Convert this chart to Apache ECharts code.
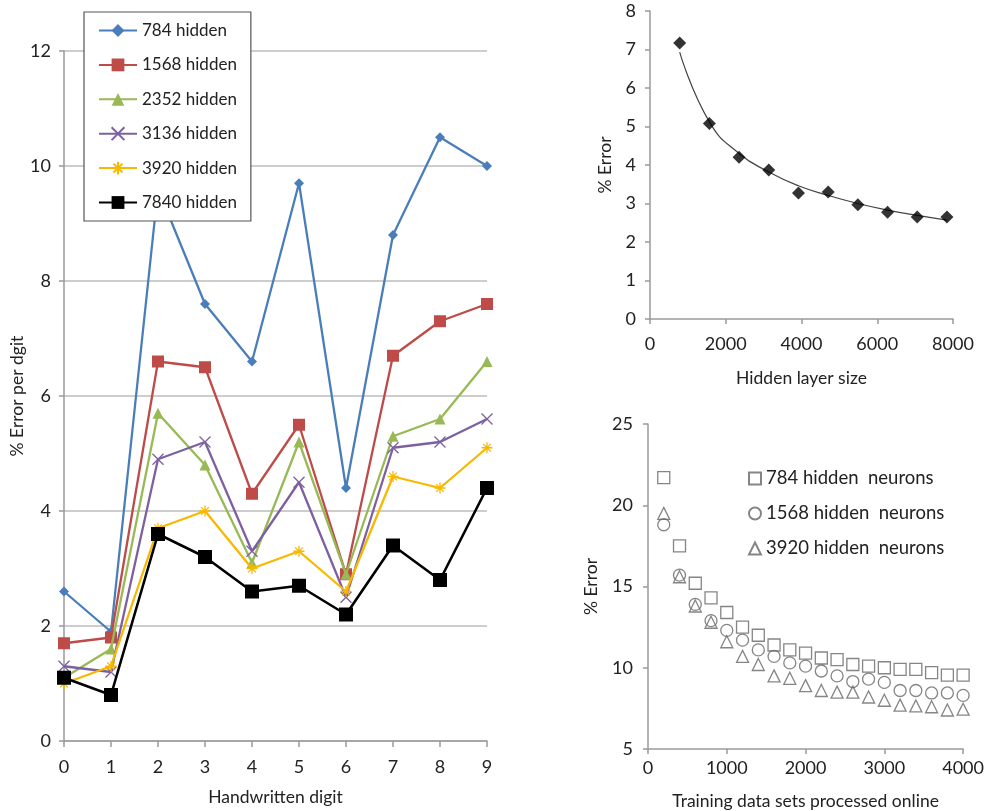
<!DOCTYPE html>
<html><head><meta charset="utf-8">
<script src="https://cdn.jsdelivr.net/npm/echarts@6/dist/echarts.min.js"></script>
<style>html,body{margin:0;padding:0;background:#fff}#c{width:987px;height:811px}</style>
</head><body><div id="c"></div>
<script>
// ---- Left panel: % error per digit ----
const digits = ['0','1','2','3','4','5','6','7','8','9'];
const h784  = [2.6, 1.9, 9.6, 7.6, 6.6, 9.7, 4.4, 8.8, 10.5, 10.0];
const h1568 = [1.7, 1.8, 6.6, 6.5, 4.3, 5.5, 2.9, 6.7, 7.3, 7.6];
const h2352 = [1.1, 1.6, 5.7, 4.8, 3.1, 5.2, 2.9, 5.3, 5.6, 6.6];
const h3136 = [1.3, 1.2, 4.9, 5.2, 3.3, 4.5, 2.5, 5.1, 5.2, 5.6];
const h3920 = [1.0, 1.3, 3.7, 4.0, 3.0, 3.3, 2.6, 4.6, 4.4, 5.1];
const h7840 = [1.1, 0.8, 3.6, 3.2, 2.6, 2.7, 2.2, 3.4, 2.8, 4.4];
const leftNames = ['784 hidden','1568 hidden','2352 hidden','3136 hidden','3920 hidden','7840 hidden'];

// ---- Top right: error vs hidden layer size ----
const layerSize = [784, 1568, 2352, 3136, 3920, 4704, 5488, 6272, 7056, 7840];
const layerErr  = [7.17, 5.08, 4.2, 3.87, 3.27, 3.3, 2.97, 2.77, 2.65, 2.65];
const trendErr  = [6.93, 5.12, 4.3, 3.82, 3.46, 3.21, 3.0, 2.83, 2.69, 2.57];

// ---- Bottom right: online training ----
const trainSets = [200,400,600,800,1000,1200,1400,1600,1800,2000,2200,2400,2600,2800,3000,3200,3400,3600,3800,4000];
const on784  = [21.7,17.5,15.2,14.3,13.4,12.5,12.0,11.4,11.1,10.9,10.6,10.5,10.2,10.1,10.0,9.9,9.9,9.7,9.55,9.55];
const on1568 = [18.8,15.7,13.9,12.9,12.3,11.7,11.1,10.7,10.3,10.1,9.8,9.5,9.15,9.3,9.1,8.6,8.6,8.45,8.45,8.3];
const on3920 = [19.5,15.6,13.8,12.8,11.6,10.7,10.2,9.5,9.35,8.9,8.6,8.5,8.5,8.2,8.0,7.7,7.65,7.6,7.4,7.45];
const onNames = ['784 hidden  neurons','1568 hidden  neurons','3920 hidden  neurons'];

const FONT = 'Lato, "Open Sans", sans-serif';
const TXT = '#222';
const AX = '#9a9a9a';
const colors = ['#4a7ebb','#be4b48','#98b954','#7d60a0','#f9b800','#000000'];
const xPath = 'path://M0,0L10,10M10,0L0,10';
const starPath = 'path://M5,0L5,10M0,5L10,5M1.5,1.5L8.5,8.5M8.5,1.5L1.5,8.5';

function pairs(xs, ys){ return xs.map((x,i)=>[x, ys[i]]); }
const plain = v => String(v);

const leftData = [h784,h1568,h2352,h3136,h3920,h7840];
const leftSym = ['diamond','rect','triangle',xPath,starPath,'rect'];
const leftSize = [10,12,11,11,11,14];

const leftSeries = leftData.map((d,i)=>{
  const stroke = (i===3||i===4);
  return {
    name: leftNames[i], type:'line', xAxisIndex:0, yAxisIndex:0,
    data: d, symbol: leftSym[i], symbolSize: leftSize[i], showSymbol:true,
    lineStyle:{color:colors[i], width: i===5?2.6:2.3},
    itemStyle: stroke ? {color:'rgba(0,0,0,0)', borderColor:colors[i], borderWidth:1.3}
                      : {color:colors[i], borderColor:colors[i], borderWidth:0},
    z: 2 + i
  };
});

function axisCommon(){
  return {
    axisLine:{show:true, lineStyle:{color:AX, width:1.5}},
    axisTick:{show:true, length:5, lineStyle:{color:AX, width:1.5}},
    axisLabel:{color:TXT, fontFamily:FONT, fontSize:18},
    nameTextStyle:{color:TXT, fontFamily:FONT, fontSize:17.5},
    splitLine:{show:false}
  };
}

const option = {
  animation:false,
  backgroundColor:'#fff',
  textStyle:{fontFamily:FONT},
  grid:[
    {left:64, right:500, top:51, bottom:68},
    {left:650, right:34, top:11, bottom:492},
    {left:648, right:22, top:424, bottom:62}
  ],
  legend:[
    {
      data: leftNames, orient:'vertical', left:84, top:12,
      backgroundColor:'#fff', borderColor:'#555', borderWidth:1.2,
      padding:[10,14,10,14], itemGap:17.4, itemWidth:38, itemHeight:16,
      textStyle:{color:TXT, fontFamily:FONT, fontSize:17}, z:10
    },
    {
      data: onNames, orient:'vertical', left:743, top:464,
      itemGap:16, itemWidth:12, itemHeight:12,
      textStyle:{color:TXT, fontFamily:FONT, fontSize:18.5}
    }
  ],
  xAxis:[
    Object.assign(axisCommon(), {
      gridIndex:0, type:'category', data:digits, boundaryGap:false,
      name:'Handwritten digit', nameLocation:'middle', nameGap:47,
      axisTick:{show:true, length:6, alignWithLabel:true, lineStyle:{color:AX, width:1.5}},
      axisLabel:{color:TXT, fontFamily:FONT, fontSize:18, margin:17}
    }),
    Object.assign(axisCommon(), {
      gridIndex:1, type:'value', min:0, max:8000, interval:2000,
      name:'Hidden layer size', nameLocation:'middle', nameGap:50,
      axisLabel:{color:TXT, fontFamily:FONT, fontSize:18, margin:16, formatter:plain}
    }),
    Object.assign(axisCommon(), {
      gridIndex:2, type:'value', min:0, max:4000, interval:1000,
      name:'Training data sets processed online', nameLocation:'middle', nameGap:43,
      axisLabel:{color:TXT, fontFamily:FONT, fontSize:18, margin:10, formatter:plain}
    })
  ],
  yAxis:[
    Object.assign(axisCommon(), {
      gridIndex:0, type:'value', min:0, max:12, interval:2,
      name:'% Error per dgit', nameLocation:'middle', nameGap:31,
      splitLine:{show:true, lineStyle:{color:'#bdbdbd', width:1.5}},
      axisLabel:{color:TXT, fontFamily:FONT, fontSize:18, margin:13}
    }),
    Object.assign(axisCommon(), {
      gridIndex:1, type:'value', min:0, max:8, interval:1,
      name:'% Error', nameLocation:'middle', nameGap:36,
      axisLabel:{color:TXT, fontFamily:FONT, fontSize:18, margin:14}
    }),
    Object.assign(axisCommon(), {
      gridIndex:2, type:'value', min:5, max:25, interval:5,
      name:'% Error', nameLocation:'middle', nameGap:48,
      axisLabel:{color:TXT, fontFamily:FONT, fontSize:18, margin:15}
    })
  ],
  series: leftSeries.concat([
    {
      name:'trend', type:'line', xAxisIndex:1, yAxisIndex:1,
      data: pairs(layerSize, trendErr), smooth:true, showSymbol:false, symbol:'none',
      lineStyle:{color:'#444', width:1.2}, z:2
    },
    {
      name:'layer', type:'scatter', xAxisIndex:1, yAxisIndex:1,
      data: pairs(layerSize, layerErr), symbol:'diamond', symbolSize:13,
      itemStyle:{color:'#000'}, z:3
    },
    {
      name:onNames[0], type:'scatter', xAxisIndex:2, yAxisIndex:2,
      data: pairs(trainSets, on784), symbol:'rect', symbolSize:12,
      itemStyle:{color:'#fff', borderColor:'#666', borderWidth:1.3}
    },
    {
      name:onNames[1], type:'scatter', xAxisIndex:2, yAxisIndex:2,
      data: pairs(trainSets, on1568), symbol:'circle', symbolSize:12,
      itemStyle:{color:'rgba(255,255,255,0)', borderColor:'#666', borderWidth:1.3}
    },
    {
      name:onNames[2], type:'scatter', xAxisIndex:2, yAxisIndex:2,
      data: pairs(trainSets, on3920), symbol:'triangle', symbolSize:12,
      itemStyle:{color:'rgba(255,255,255,0)', borderColor:'#666', borderWidth:1.3}
    }
  ])
};
const chart = echarts.init(document.getElementById('c'), null, {renderer:'canvas'});
chart.setOption(option);
</script></body></html>
